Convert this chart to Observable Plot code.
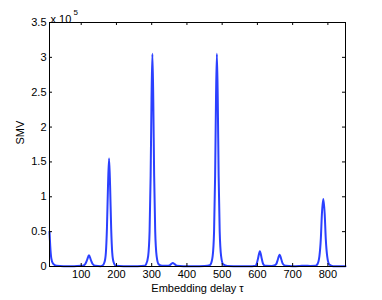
<!DOCTYPE html>
<html><head><meta charset="utf-8">
<script src="https://cdn.jsdelivr.net/npm/d3@7"></script>
<script src="https://cdn.jsdelivr.net/npm/@observablehq/plot@0.6"></script>
<style>body{margin:0;background:#fff}</style>
</head><body><div id="chart"></div>
<script>
// Embedding delay (tau) and SMV in units of 10^5
const delay = [10,12,15,20,30,50,80,100,
  105,112,117,122,127,132,140,155,
  160,166,170,173,176,179,182,185,188,192,198,220,260,280,
  284,290,294,297,299.5,302,304.5,307,310,314,320,330,345,
  350,355,360,365,371,390,420,450,465,
  467,473,477,480,482.5,485,487.5,490,493,497,503,515,550,585,595,
  598,602,607,612,616,622,640,650,
  654,658,663,668,672,680,700,720,735,750,765,
  770,776,780,783,787,791,794,798,804,815,850];
const smv = [0.50,0.30,0.12,0.04,0.01,0.005,0.005,0.01,
  0.012,0.04,0.10,0.16,0.10,0.04,0.01,0.005,
  0.01,0.06,0.20,0.55,1.15,1.55,1.15,0.55,0.20,0.06,0.01,0.005,0.005,0.01,
  0.03,0.15,0.50,1.30,2.40,3.05,2.40,1.30,0.50,0.15,0.03,0.01,0.01,
  0.015,0.035,0.05,0.035,0.012,0.005,0.005,0.008,0.02,
  0.03,0.15,0.50,1.30,2.40,3.05,2.40,1.30,0.50,0.15,0.03,0.008,0.005,0.005,0.01,
  0.04,0.12,0.22,0.12,0.04,0.01,0.008,0.02,
  0.04,0.10,0.17,0.10,0.04,0.01,0.005,0.008,0.012,0.008,0.01,
  0.03,0.15,0.40,0.75,0.97,0.75,0.40,0.15,0.03,0.005,0.003];
const xTicks = [100,200,300,400,500,600,700,800];
const yTicks = [0,0.5,1,1.5,2,2.5,3,3.5];
const yTickLabels = ["0","0.5","1","1.5","2","2.5","3","3.5"];
const xDomain = [10,850], yDomain = [0,3.5];

const W = 382, H = 300, mL = 49, mR = 37, mT = 22, mB = 34;
const tickLenX = 3 * (yDomain[1]-yDomain[0]) / (H-mT-mB);
const tickLenY = 3 * (xDomain[1]-xDomain[0]) / (W-mL-mR);
const data = delay.map((d,i) => ({delay: d, smv: smv[i]}));
const font = "'Liberation Sans', Arial, Helvetica, sans-serif";

const plot = Plot.plot({
  width: W, height: H, marginLeft: mL, marginRight: mR, marginTop: mT, marginBottom: mB,
  style: {fontSize: "11px", fontFamily: font, background: "white", color: "black"},
  x: {domain: xDomain}, y: {domain: yDomain},
  marks: [
    Plot.line(data, {x: "delay", y: "smv", stroke: "#2b40ff", strokeWidth: 2, curve: "monotone-x"}),
    Plot.ruleX(xTicks, {x: d => d, y1: yDomain[0], y2: yDomain[0] + tickLenX, stroke: "black"}),
    Plot.ruleX(xTicks, {x: d => d, y1: yDomain[1], y2: yDomain[1] - tickLenX, stroke: "black"}),
    Plot.ruleY(yTicks, {y: d => d, x1: xDomain[0], x2: xDomain[0] + tickLenY, stroke: "black"}),
    Plot.ruleY(yTicks, {y: d => d, x1: xDomain[1], x2: xDomain[1] - tickLenY, stroke: "black"}),
    Plot.frame({stroke: "black"}),
    Plot.axisX(xTicks, {tickSize: 0, tickPadding: 4, label: null}),
    Plot.axisY(yTicks, {tickSize: 0, tickPadding: 3, tickFormat: (d, i) => yTickLabels[i], label: null}),
    Plot.text(["Embedding delay τ"], {text: d => d, frameAnchor: "bottom", dy: 25, fontSize: 11}),
    Plot.text(["SMV"], {text: d => d, frameAnchor: "left", dx: -29, rotate: -90, fontSize: 11}),
    Plot.text(["x 10"], {text: d => d, frameAnchor: "top-left", textAnchor: "start", dx: 1, dy: -7, fontSize: 11}),
    Plot.text(["5"], {text: d => d, frameAnchor: "top-left", textAnchor: "start", dx: 24, dy: -13, fontSize: 8})
  ]
});
document.getElementById("chart").append(plot);
</script>
</body></html>
